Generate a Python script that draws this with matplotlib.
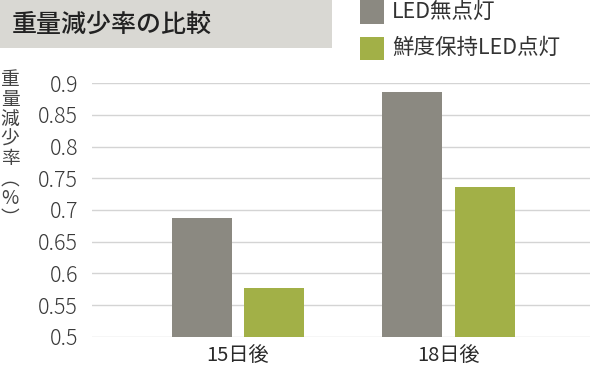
import numpy as np
import matplotlib.pyplot as plt
from matplotlib.patches import Rectangle

plt.rcParams['font.family'] = ['Noto Sans CJK JP', 'DejaVu Sans']

# data
categories = ['15日後', '18日後']
led_off = [0.687, 0.886]
keep_fresh = [0.577, 0.736]
series_names = ['LED無点灯', '鮮度保持LED点灯']
yticks = [0.5, 0.55, 0.6, 0.65, 0.7, 0.75, 0.8, 0.85, 0.9]
ytick_labels = ['0.5', '0.55', '0.6', '0.65', '0.7', '0.75', '0.8', '0.85', '0.9']

gray = '#8b8981'
green = '#a2b047'

fig = plt.figure(figsize=(5.9, 3.76), dpi=100)
ax = fig.add_axes([92/590, 1-336.7/376, 1-92/590, (336.7-83.3)/376])

x = np.arange(len(categories))
w = 0.285
off = 0.1725
ax.bar(x - off, led_off, w, color=gray, zorder=3)
ax.bar(x + off, keep_fresh, w, color=green, zorder=3)

ax.set_xlim(-0.693, 1.671)
ax.set_ylim(0.5, 0.9)
ax.set_yticks(yticks)
ax.set_yticklabels(ytick_labels)
ax.set_xticks(x)
ax.set_xticklabels(categories)
ax.tick_params(axis='y', length=0, pad=10, labelsize=15.5, labelcolor='#3a3a3a')
ax.tick_params(axis='x', length=0, pad=6, labelsize=14.5, labelcolor='#2a2a2a')
for lab in ax.get_yticklabels():
    lab.set_fontweight('light')
ax.grid(axis='y', color='#d4d4d4', linewidth=1.0, zorder=0)
ax.set_axisbelow(True)
for s in ax.spines.values():
    s.set_visible(False)

# title band
fig.patches.append(Rectangle((0, 1-48/376), 332/590, 48/376, transform=fig.transFigure,
                             facecolor='#d9d8d3', edgecolor='none', zorder=0))
fig.text(12/590, 1-25/376, '重量減少率の比較', fontsize=18, fontweight='medium',
         color='#222222', va='center', ha='left')

# legend
fig.patches.append(Rectangle((360/590, 1-24/376), 24/590, 24/376, transform=fig.transFigure,
                             facecolor=gray, edgecolor='none'))
fig.patches.append(Rectangle((360/590, 1-60/376), 24/590, 23/376, transform=fig.transFigure,
                             facecolor=green, edgecolor='none'))
fig.text(392/590, 1-12/376, series_names[0], fontsize=15.5, color='#333333', va='center', ha='left')
fig.text(392/590, 1-48/376, series_names[1], fontsize=15.5, color='#333333', va='center', ha='left')

# vertical y label
fig.text(10/590, 1-149/376, '\n'.join('重量減少率︵%︶'), fontsize=13.5, color='#444444',
         va='center', ha='center', linespacing=0.93)

fig.savefig('out.png', dpi=100)
